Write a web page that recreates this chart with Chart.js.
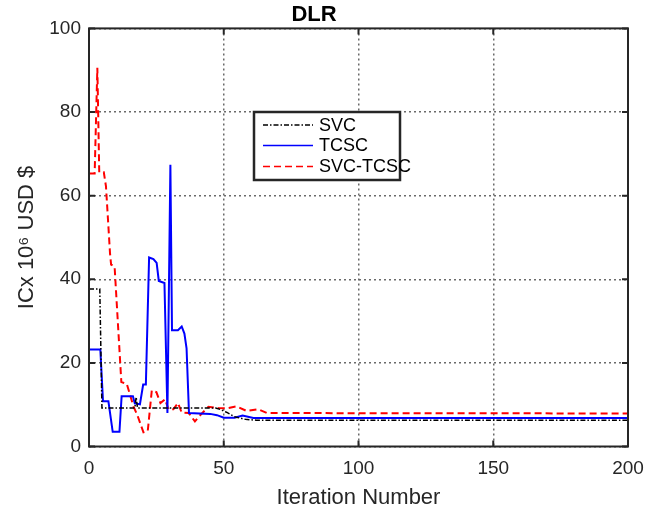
<!DOCTYPE html>
<html>
<head>
<meta charset="utf-8">
<title>DLR</title>
<script src="https://cdn.jsdelivr.net/npm/chart.js@4"></script>
<style>
  html, body { margin: 0; padding: 0; background: #fff; }
  #wrap { width: 664px; height: 511px; position: relative; }
</style>
</head>
<body>
<div id="wrap"><canvas id="dlrChart"></canvas></div>
<script>
// values
const seriesNames = ['SVC', 'TCSC', 'SVC-TCSC'];
const xTicks = [0, 50, 100, 150, 200];
const yTicks = [0, 20, 40, 60, 80, 100];

const svcX = [0, 4, 4.8, 17, 17.5, 18, 47, 49, 51, 54, 58, 62, 200];
const svcY = [37.7, 37.7, 9.2, 9.2, 11.8, 9.2, 9.2, 8.8, 8.2, 7.1, 6.5, 6.3, 6.3];

const tcscX = [0, 4.2, 5.2, 7.2, 8.8, 11.3, 12.1, 16.3, 17, 18.9, 20.1, 21.1, 22.3, 23.9, 25.1, 25.9, 28,
  29.1, 30.2, 30.8, 33, 34.4, 35.4, 36.2, 37.1, 45, 47.5, 50, 54, 57, 61, 200];
const tcscY = [23.2, 23.2, 10.8, 10.8, 3.5, 3.5, 12, 12, 10.3, 10.1, 14.8, 14.8, 45.2, 44.8, 43.9, 39.6, 39.1,
  8, 67.4, 27.8, 27.8, 28.7, 27, 23.5, 8, 7.8, 7.5, 6.9, 6.9, 7.4, 6.8, 6.8];

const svcTcscX = [0, 2.1, 3.1, 3.8, 5.5, 6.3, 7.8, 8.2, 9.5, 12, 14, 16.5, 18, 20.2, 21.8, 23.3, 25, 26.5,
  28.2, 29.5, 31.3, 33, 34.4, 37, 39.3, 41, 44.3, 48, 51, 54.8, 58.5, 62.8, 66, 200];
const svcTcscY = [65.3, 65.3, 90.6, 65.6, 65.6, 62.2, 46.2, 43.5, 43, 15.4, 15, 9.6, 7.4, 3.4, 3.7, 13.4, 13,
  10.4, 11.3, 8.9, 8.9, 10.4, 8.1, 8, 6, 7.3, 9.5, 9.2, 9.1, 9.6, 8.5, 8.9, 8, 7.9];

const toPoints = (xs, ys) => xs.map((x, i) => ({ x: x, y: ys[i] }));

const FONT = "'Liberation Sans', Arial, Helvetica, sans-serif";
const INK = '#262626';

// MATLAB-like box, inward ticks and the boxed legend
const boxAndLegend = {
  id: 'boxAndLegend',
  afterDatasetsDraw(chart) {
    const ctx = chart.ctx;
    const a = chart.chartArea;
    const xs = chart.scales.x;
    const ys = chart.scales.y;
    ctx.save();
    ctx.strokeStyle = INK;
    ctx.lineWidth = 2;
    ctx.setLineDash([]);
    ctx.beginPath();
    xTicks.forEach(v => {
      const px = xs.getPixelForValue(v);
      ctx.moveTo(px, a.bottom); ctx.lineTo(px, a.bottom - 6);
      ctx.moveTo(px, a.top); ctx.lineTo(px, a.top + 6);
    });
    yTicks.forEach(v => {
      const py = ys.getPixelForValue(v);
      ctx.moveTo(a.left, py); ctx.lineTo(a.left + 6, py);
      ctx.moveTo(a.right, py); ctx.lineTo(a.right - 6, py);
    });
    ctx.stroke();
    ctx.strokeRect(a.left, a.top, a.right - a.left, a.bottom - a.top);

    // legend
    ctx.fillStyle = '#fff';
    ctx.fillRect(254, 112, 146, 68);
    ctx.strokeStyle = INK;
    ctx.lineWidth = 2.5;
    ctx.strokeRect(254, 112, 146, 68);
    const rows = [125, 145.5, 166.5];
    chart.data.datasets.forEach((ds, i) => {
      ctx.strokeStyle = ds.borderColor;
      ctx.lineWidth = Math.min(ds.borderWidth, 1.5);
      ctx.setLineDash(ds.borderDash || []);
      ctx.beginPath();
      ctx.moveTo(263, rows[i]);
      ctx.lineTo(313, rows[i]);
      ctx.stroke();
      ctx.setLineDash([]);
      ctx.fillStyle = '#000';
      ctx.font = '18px ' + FONT;
      ctx.textBaseline = 'middle';
      ctx.textAlign = 'left';
      ctx.fillText(ds.label, 319, rows[i] + 1);
    });
    ctx.restore();
  }
};

const ctx = document.getElementById('dlrChart').getContext('2d');
const dlrChart = new Chart(ctx, {
  type: 'line',
  data: {
    datasets: [
      {
        label: seriesNames[0],
        data: toPoints(svcX, svcY),
        borderColor: '#000000',
        borderWidth: 1.5,
        borderDash: [5, 2, 1.5, 2],
        pointRadius: 0,
        tension: 0
      },
      {
        label: seriesNames[1],
        data: toPoints(tcscX, tcscY),
        borderColor: '#0000ff',
        borderWidth: 2,
        pointRadius: 0,
        tension: 0
      },
      {
        label: seriesNames[2],
        data: toPoints(svcTcscX, svcTcscY),
        borderColor: '#ff0000',
        borderWidth: 2,
        borderDash: [7, 4],
        pointRadius: 0,
        tension: 0
      }
    ]
  },
  options: {
    responsive: true,
    maintainAspectRatio: false,
    animation: false,
    layout: { padding: { left: 0, right: 36, top: 0, bottom: 0 } },
    plugins: {
      legend: { display: false },
      tooltip: { enabled: false },
      title: {
        display: true,
        text: 'DLR',
        color: '#000',
        font: { family: FONT, size: 22, weight: 'bold' },
        padding: { top: 2, bottom: 0 }
      }
    },
    scales: {
      x: {
        type: 'linear',
        min: 0,
        max: 200,
        afterBuildTicks: s => { s.ticks = xTicks.map(v => ({ value: v })); },
        afterFit: s => { s.height = 64.5; },
        ticks: {
          color: INK,
          font: { family: FONT, size: 19 },
          padding: 11,
          maxRotation: 0
        },
        grid: { color: '#6a6a6a', lineWidth: 1.5, drawTicks: false },
        border: { display: false, dash: [2, 3] },
        title: {
          display: true,
          text: 'Iteration Number',
          color: INK,
          font: { family: FONT, size: 22 },
          padding: { top: 0, bottom: 0 }
        }
      },
      y: {
        min: 0,
        max: 100,
        afterBuildTicks: s => { s.ticks = yTicks.map(v => ({ value: v })); },
        afterFit: s => { s.width = 89; },
        ticks: {
          color: INK,
          font: { family: FONT, size: 19 },
          padding: 8
        },
        grid: { color: '#6a6a6a', lineWidth: 1.5, drawTicks: false },
        border: { display: false, dash: [2, 3] },
        title: {
          display: true,
          text: 'ICx 10\u2076 USD $',
          color: INK,
          font: { family: FONT, size: 22 },
          padding: { top: 14, bottom: 0 }
        }
      }
    }
  },
  plugins: [boxAndLegend]
});
</script>
</body>
</html>
